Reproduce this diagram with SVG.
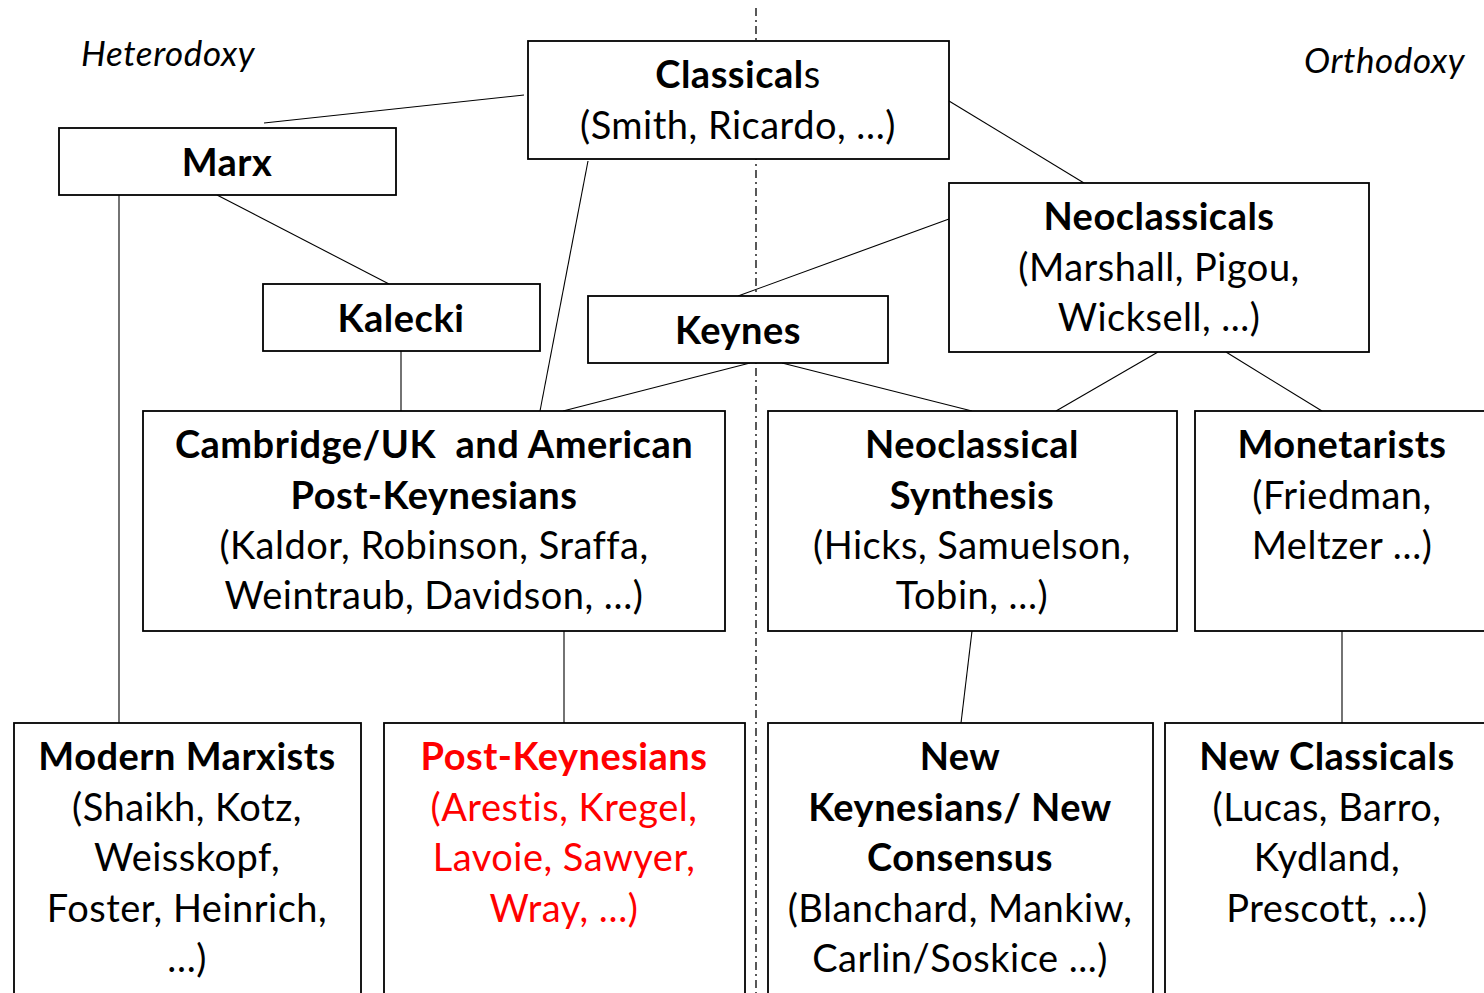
<svg xmlns="http://www.w3.org/2000/svg" width="1484" height="993" viewBox="0 0 1484 993">
<style>
.box{fill:#fff;stroke:#000;stroke-width:1.8}
.c{stroke:#000;stroke-width:1.1;fill:none}
text{font-family:Lato,"Open Sans","Liberation Sans",sans-serif;font-size:38px;letter-spacing:0.5px;text-anchor:middle;fill:#000}
.b{font-weight:bold}
.r{fill:#f00}
.it{font-style:italic;font-size:35px;letter-spacing:0.6px;text-anchor:start}
</style>
<rect width="1484" height="993" fill="#fff"/>
<line x1="756" y1="8" x2="756" y2="993" stroke="#000" stroke-width="1.3" stroke-dasharray="8 4 2 4"/>
<text class="it" x="81" y="66">Heterodoxy</text>
<text class="it" x="1304" y="73">Orthodoxy</text>
<g id="connectors">
<line class="c" x1="524" y1="95" x2="264" y2="123"/>
<line class="c" x1="949" y1="101" x2="1084" y2="183"/>
<line class="c" x1="588" y1="161" x2="540" y2="411"/>
<line class="c" x1="217" y1="195" x2="389" y2="284"/>
<line class="c" x1="119" y1="195" x2="119" y2="723"/>
<line class="c" x1="401" y1="351" x2="401" y2="411"/>
<line class="c" x1="949" y1="219" x2="738" y2="296"/>
<line class="c" x1="750" y1="363" x2="563" y2="411"/>
<line class="c" x1="782" y1="363" x2="972" y2="411"/>
<line class="c" x1="1158" y1="352" x2="1056" y2="411"/>
<line class="c" x1="1226" y1="352" x2="1322" y2="411"/>
<line class="c" x1="564" y1="631" x2="564" y2="723"/>
<line class="c" x1="972" y1="631" x2="961" y2="723"/>
<line class="c" x1="1342" y1="631" x2="1342" y2="723"/>
</g>
<g id="classicals">
<rect class="box" x="528" y="41" width="421" height="118"/>
<text x="738" y="88"><tspan class="b">Classical</tspan>s</text>
<text x="738" y="139">(Smith, Ricardo, …)</text>
</g>
<g id="marx">
<rect class="box" x="59" y="128" width="337" height="67"/>
<text class="b" x="227" y="176">Marx</text>
</g>
<g id="kalecki">
<rect class="box" x="263" y="284" width="277" height="67"/>
<text class="b" x="401" y="332">Kalecki</text>
</g>
<g id="keynes">
<rect class="box" x="588" y="296" width="300" height="67"/>
<text class="b" x="738" y="344">Keynes</text>
</g>
<g id="neoclassicals">
<rect class="box" x="949" y="183" width="420" height="169"/>
<text class="b" x="1159" y="230">Neoclassicals</text>
<text x="1159" y="281">(Marshall, Pigou,</text>
<text x="1159" y="331">Wicksell, ...)</text>
</g>
<g id="cambridge">
<rect class="box" x="143" y="411" width="582" height="220"/>
<text class="b" x="434" y="458" xml:space="preserve">Cambridge/UK  and American</text>
<text class="b" x="434" y="509">Post-Keynesians</text>
<text x="434" y="559">(Kaldor, Robinson, Sraffa,</text>
<text x="434" y="609">Weintraub, Davidson, …)</text>
</g>
<g id="synthesis">
<rect class="box" x="768" y="411" width="409" height="220"/>
<text class="b" x="972" y="458">Neoclassical</text>
<text class="b" x="972" y="509">Synthesis</text>
<text x="972" y="559">(Hicks, Samuelson,</text>
<text x="972" y="609">Tobin, …)</text>
</g>
<g id="monetarists">
<rect class="box" x="1195" y="411" width="294" height="220"/>
<text class="b" x="1342" y="458">Monetarists</text>
<text x="1342" y="509">(Friedman,</text>
<text x="1342" y="559">Meltzer …)</text>
</g>
<g id="modern-marxists">
<rect class="box" x="14" y="723" width="347" height="280"/>
<text class="b" x="187" y="770">Modern Marxists</text>
<text x="187" y="821">(Shaikh, Kotz,</text>
<text x="187" y="871">Weisskopf,</text>
<text x="187" y="922">Foster, Heinrich,</text>
<text x="187" y="972">…)</text>
</g>
<g id="post-keynesians">
<rect class="box" x="384" y="723" width="361" height="280"/>
<text class="b r" x="564" y="770">Post-Keynesians</text>
<text class="r" x="564" y="821">(Arestis, Kregel,</text>
<text class="r" x="564" y="871">Lavoie, Sawyer,</text>
<text class="r" x="564" y="922">Wray, …)</text>
</g>
<g id="new-keynesians">
<rect class="box" x="768" y="723" width="385" height="280"/>
<text class="b" x="960" y="770">New</text>
<text class="b" x="960" y="821">Keynesians/ New</text>
<text class="b" x="960" y="871">Consensus</text>
<text x="960" y="922">(Blanchard, Mankiw,</text>
<text x="960" y="972">Carlin/Soskice ...)</text>
</g>
<g id="new-classicals">
<rect class="box" x="1165" y="723" width="325" height="280"/>
<text class="b" x="1327" y="770">New Classicals</text>
<text x="1327" y="821">(Lucas, Barro,</text>
<text x="1327" y="871">Kydland,</text>
<text x="1327" y="922">Prescott, …)</text>
</g>
</svg>
